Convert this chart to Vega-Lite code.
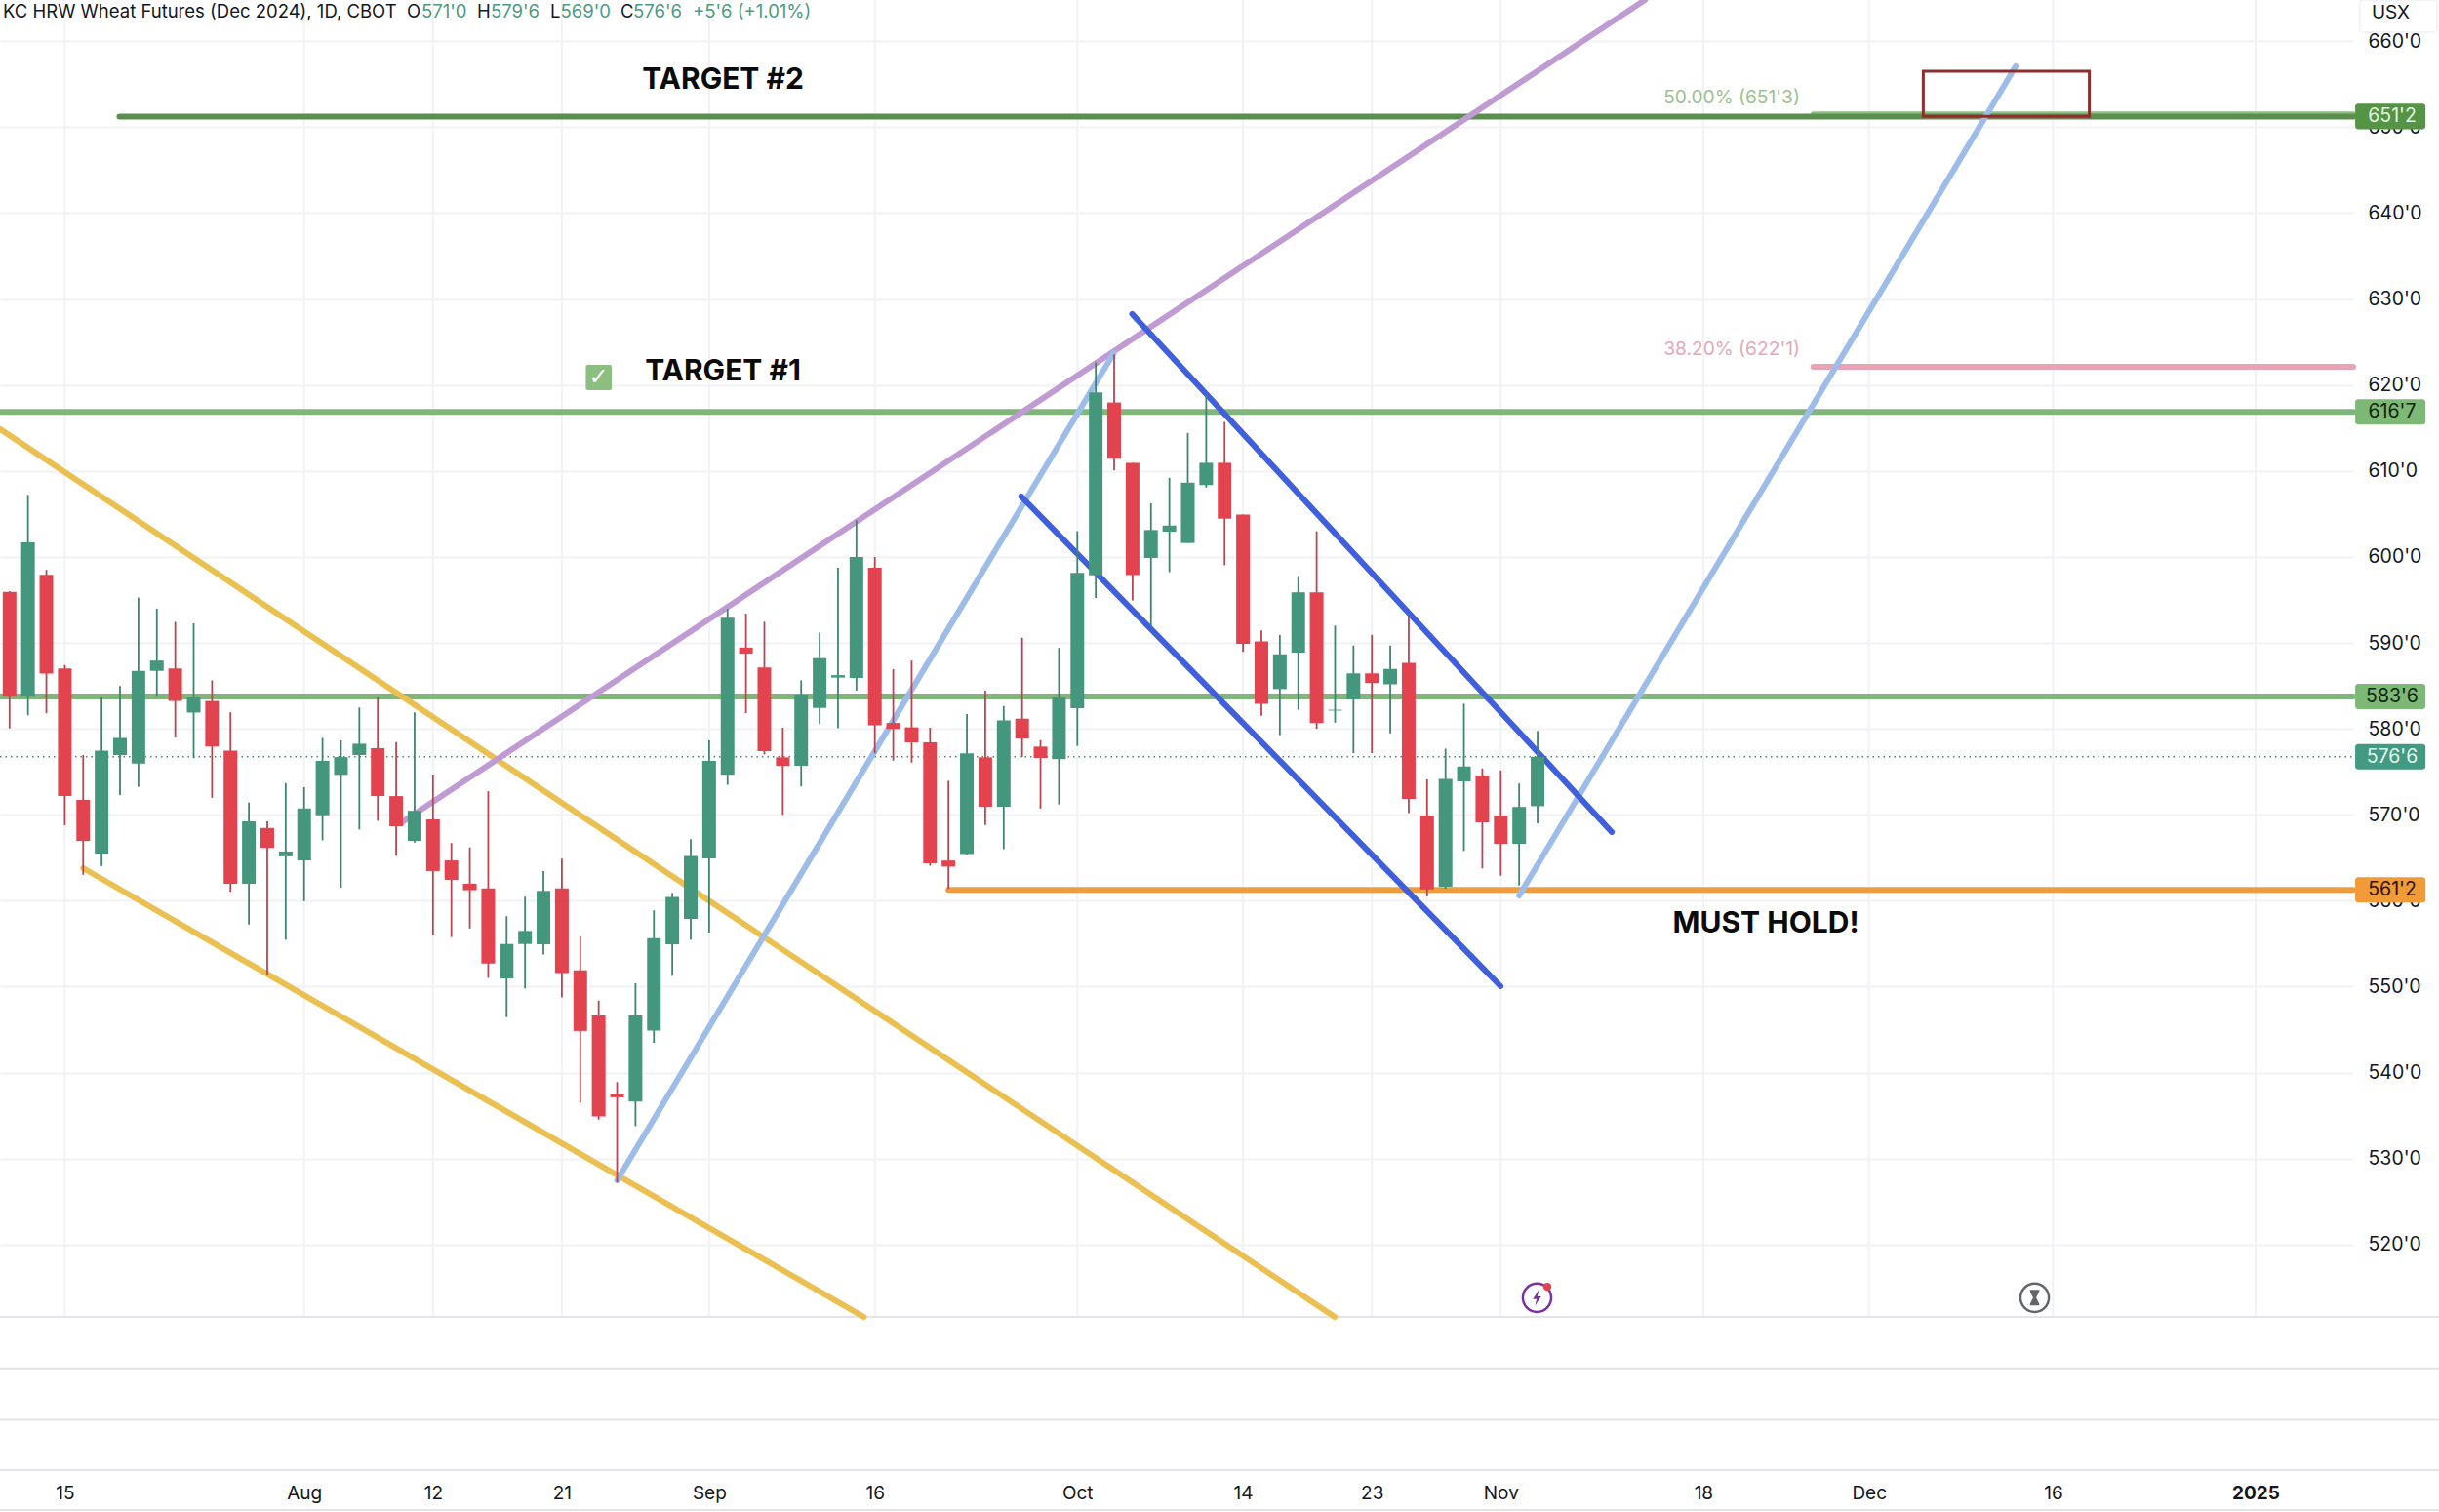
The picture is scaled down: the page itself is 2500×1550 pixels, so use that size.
{"$schema":"https://vega.github.io/schema/vega-lite/v6.json","width":2412,"height":1507,"autosize":"none","padding":{"left":0,"top":0,"right":88,"bottom":43},"background":"#ffffff","config":{"view":{"stroke":null},"font":"Inter"},
"datasets":{
"candles":[{"i":0,"open":595.94,"high":596,"low":580.05,"close":583.72},{"i":1,"open":583.72,"high":607.21,"low":581.57,"close":601.68},{"i":2,"open":597.93,"high":598.49,"low":581.81,"close":586.43},{"i":3,"open":587.02,"high":587.42,"low":568.78,"close":572.17},{"i":4,"open":571.73,"high":576.95,"low":563.01,"close":566.95},{"i":5,"open":565.48,"high":583.64,"low":564.04,"close":577.46},{"i":6,"open":576.95,"high":584.99,"low":572.29,"close":578.94},{"i":7,"open":575.95,"high":595.27,"low":573.24,"close":586.74},{"i":8,"open":586.74,"high":593.99,"low":583.72,"close":587.94},{"i":9,"open":587.02,"high":592.44,"low":578.98,"close":583.24},{"i":10,"open":581.89,"high":592.28,"low":576.59,"close":583.64},{"i":11,"open":583.24,"high":585.63,"low":571.97,"close":577.94},{"i":12,"open":577.46,"high":581.92,"low":561.02,"close":561.97},{"i":13,"open":561.97,"high":571.41,"low":557.23,"close":569.22},{"i":14,"open":568.46,"high":569.22,"low":551.3,"close":566.15},{"i":15,"open":565.16,"high":573.68,"low":555.44,"close":565.72},{"i":16,"open":564.68,"high":573.2,"low":559.94,"close":570.73},{"i":17,"open":569.94,"high":578.94,"low":567.03,"close":576.27},{"i":18,"open":574.64,"high":578.66,"low":561.5,"close":576.71},{"i":19,"open":576.95,"high":582.48,"low":568.27,"close":578.26},{"i":20,"open":577.74,"high":583.64,"low":569.3,"close":572.17},{"i":21,"open":572.17,"high":578.46,"low":565.24,"close":568.66},{"i":22,"open":566.95,"high":581.92,"low":566.75,"close":570.46},{"i":23,"open":569.46,"high":574.68,"low":555.96,"close":563.45},{"i":24,"open":564.68,"high":566.71,"low":555.76,"close":562.41},{"i":25,"open":561.97,"high":566.19,"low":556.76,"close":561.22},{"i":26,"open":561.42,"high":572.73,"low":551.02,"close":552.69},{"i":27,"open":550.94,"high":558.19,"low":546.44,"close":554.96},{"i":28,"open":554.96,"high":560.46,"low":549.79,"close":556.48},{"i":29,"open":554.92,"high":563.45,"low":553.74,"close":561.14},{"i":30,"open":561.42,"high":564.9,"low":548.75,"close":551.58},{"i":31,"open":551.9,"high":555.86,"low":536.5,"close":544.84},{"i":32,"open":546.63,"high":548.37,"low":534.52,"close":534.9},{"i":33,"open":537.45,"high":538.9,"low":527.22,"close":537.12},{"i":34,"open":536.64,"high":550.4,"low":533.77,"close":546.63},{"i":35,"open":544.89,"high":558.88,"low":543.47,"close":555.63},{"i":36,"open":554.92,"high":560.9,"low":551.25,"close":560.43},{"i":37,"open":557.89,"high":567.17,"low":555.44,"close":565.19},{"i":38,"open":564.91,"high":578.66,"low":556.29,"close":576.26},{"i":39,"open":574.66,"high":593.97,"low":573.48,"close":592.93},{"i":40,"open":589.45,"high":593.4,"low":581.82,"close":588.74},{"i":41,"open":587.14,"high":592.46,"low":577.01,"close":577.39},{"i":42,"open":576.68,"high":580.12,"low":569.99,"close":575.69},{"i":43,"open":575.69,"high":585.63,"low":573.29,"close":583.98},{"i":44,"open":582.43,"high":591.19,"low":580.54,"close":588.22},{"i":45,"open":585.96,"high":598.74,"low":580.07,"close":586.24},{"i":46,"open":585.91,"high":604.27,"low":584.45,"close":599.99},{"i":47,"open":598.74,"high":599.99,"low":577.15,"close":580.4},{"i":48,"open":580.68,"high":586.95,"low":576.3,"close":579.98},{"i":49,"open":580.17,"high":587.94,"low":576.07,"close":578.42},{"i":50,"open":578.42,"high":580.12,"low":564.06,"close":564.34},{"i":51,"open":564.67,"high":573.95,"low":561.37,"close":563.96},{"i":52,"open":565.42,"high":581.72,"low":565.33,"close":577.15},{"i":53,"open":576.68,"high":584.45,"low":568.81,"close":570.93},{"i":54,"open":570.93,"high":582.66,"low":565.99,"close":580.97},{"i":55,"open":581.18,"high":590.6,"low":576.7,"close":578.87},{"i":56,"open":577.93,"high":578.68,"low":570.72,"close":576.61},{"i":57,"open":576.47,"high":589.42,"low":571.19,"close":583.63},{"i":58,"open":582.4,"high":602.99,"low":578.02,"close":598.14},{"i":59,"open":597.85,"high":622.63,"low":595.22,"close":619.14},{"i":60,"open":617.97,"high":623.57,"low":610.05,"close":611.42},{"i":61,"open":610.95,"high":610.95,"low":594.93,"close":597.9},{"i":62,"open":599.88,"high":606.24,"low":591.92,"close":603.13},{"i":63,"open":602.94,"high":609.21,"low":598.23,"close":603.65},{"i":64,"open":601.62,"high":614.43,"low":601.62,"close":608.64},{"i":65,"open":608.36,"high":618.86,"low":608.07,"close":610.95},{"i":66,"open":610.95,"high":615.71,"low":599.03,"close":604.45},{"i":67,"open":604.92,"high":604.92,"low":588.95,"close":589.89},{"i":68,"open":590.18,"high":591.45,"low":581.51,"close":582.92},{"i":69,"open":584.62,"high":590.93,"low":579.25,"close":588.67},{"i":70,"open":588.86,"high":597.76,"low":582.22,"close":595.88},{"i":71,"open":595.88,"high":602.99,"low":580,"close":580.66},{"i":72,"open":582.12,"high":592.01,"low":580.71,"close":582.22},{"i":73,"open":583.44,"high":589.7,"low":577.17,"close":586.45},{"i":74,"open":586.45,"high":590.93,"low":577.17,"close":585.32},{"i":75,"open":585.18,"high":589.7,"low":579.48,"close":586.97},{"i":76,"open":587.68,"high":593.1,"low":570.2,"close":571.85},{"i":77,"open":569.87,"high":574.11,"low":560.5,"close":561.3},{"i":78,"open":561.63,"high":577.69,"low":561.39,"close":574.16},{"i":79,"open":573.88,"high":582.92,"low":565.78,"close":575.62},{"i":80,"open":574.58,"high":575.39,"low":563.75,"close":569.12},{"i":81,"open":569.87,"high":575.15,"low":562.9,"close":566.62},{"i":82,"open":566.62,"high":573.64,"low":561.77,"close":570.91},{"i":83,"open":571,"high":579.75,"low":569,"close":576.75}],
"lines":[{"line":"support 616'7","i":-0.519,"price":616.875},{"line":"support 616'7","i":127.3,"price":616.875},{"line":"support 583'6","i":-0.519,"price":583.75},{"line":"support 583'6","i":127.3,"price":583.75},{"line":"fib 50","i":97.98,"price":651.5},{"line":"fib 50","i":127.3,"price":651.5},{"line":"target 651'2","i":5.97,"price":651.25},{"line":"target 651'2","i":127.3,"price":651.25},{"line":"must hold 561'2","i":51,"price":561.25},{"line":"must hold 561'2","i":127.3,"price":561.25},{"line":"fib 38.2","i":97.98,"price":622.125},{"line":"fib 38.2","i":127.3,"price":622.125},{"line":"yellow upper","i":-0.519,"price":614.88},{"line":"yellow upper","i":71.98,"price":511.57},{"line":"yellow lower","i":4,"price":563.78},{"line":"yellow lower","i":46.4,"price":511.57},{"line":"purple","i":21.31,"price":569.12},{"line":"purple","i":88.83,"price":664.8},{"line":"blue light 1","i":33,"price":527.46},{"line":"blue light 1","i":59.98,"price":623.71},{"line":"blue light 2","i":82,"price":560.6},{"line":"blue light 2","i":108.97,"price":657.08},{"line":"blue upper","i":60.98,"price":628.25},{"line":"blue upper","i":87.03,"price":567.98},{"line":"blue lower","i":54.95,"price":607.03},{"line":"blue lower","i":80.99,"price":550.05}],
"tags":[{"label":"651'2","i":127.41,"i2":131.23,"price":652.73,"price2":649.77,"tag":"a"},{"label":"616'7","i":127.41,"i2":131.23,"price":618.35,"price2":615.4,"tag":"b"},{"label":"583'6","i":127.41,"i2":131.23,"price":585.23,"price2":582.27,"tag":"b"},{"label":"576'6","i":127.41,"i2":131.23,"price":578.23,"price2":575.27,"tag":"c"},{"label":"561'2","i":127.41,"i2":131.23,"price":562.73,"price2":559.77,"tag":"d"}],
"tagText":[{"label":"651'2","i":129.42,"price":651.25,"tag":"a"},{"label":"616'7","i":129.42,"price":616.875,"tag":"b"},{"label":"583'6","i":129.42,"price":583.75,"tag":"b"},{"label":"576'6","i":129.42,"price":576.75,"tag":"c"},{"label":"561'2","i":129.42,"price":561.25,"tag":"d"}]
},
"encoding":{"x":{"field":"i","type":"quantitative","title":null,"scale":{"domain":[-0.519,127.3],"nice":false,"zero":false,"padding":0},"axis":{"values":[3,16,23,30,38,47,58,67,74,81,92,101,111,122],"labelExpr":"datum.value==3?'15':datum.value==16?'Aug':datum.value==23?'12':datum.value==30?'21':datum.value==38?'Sep':datum.value==47?'16':datum.value==58?'Oct':datum.value==67?'14':datum.value==74?'23':datum.value==81?'Nov':datum.value==92?'18':datum.value==101?'Dec':datum.value==111?'16':'2025'","labelFontSize":19,"labelColor":"#131722","labelPadding":14,"labelFontWeight":{"condition":{"test":"datum.value==122","value":"bold"},"value":"normal"},"labelOverlap":false,"labelBound":false,"labelFlush":false,"ticks":false,"domain":false,"grid":false}},"y":{"field":"price","type":"quantitative","title":null,"scale":{"domain":[493.75,664.8],"nice":false,"zero":false},"axis":{"orient":"right","values":[520,530,540,550,560,570,580,590,600,610,620,630,640,650,660],"labelExpr":"datum.value+\"'0\"","labelFontSize":19.5,"labelColor":"#131722","labelPadding":15,"labelAlign":"left","labelOverlap":false,"labelBound":false,"labelFlush":false,"ticks":false,"domain":false,"grid":true,"gridColor":"#f1f2f5","gridWidth":2}}},
"layer":[
{"data":{"values":[{"i":3,"price":511.57,"top":664.8},{"i":16,"price":511.57,"top":664.8},{"i":23,"price":511.57,"top":664.8},{"i":30,"price":511.57,"top":664.8},{"i":38,"price":511.57,"top":664.8},{"i":47,"price":511.57,"top":664.8},{"i":58,"price":511.57,"top":664.8},{"i":67,"price":511.57,"top":664.8},{"i":74,"price":511.57,"top":664.8},{"i":81,"price":511.57,"top":664.8},{"i":92,"price":511.57,"top":664.8},{"i":101,"price":511.57,"top":664.8},{"i":111,"price":511.57,"top":664.8},{"i":122,"price":511.57,"top":664.8}]},"mark":{"type":"rule","color":"#f1f2f5","strokeWidth":2},"encoding":{"y2":{"field":"top"}}},
{"data":{"values":[{"price":511.57,"i":-0.519,"i2":131.97},{"price":505.59,"i":-0.519,"i2":131.97},{"price":499.6,"i":-0.519,"i2":131.97},{"price":493.75,"i":-0.519,"i2":131.97},{"price":489.1,"i":-0.519,"i2":131.97}]},"mark":{"type":"rule","color":"#e2e4e9","strokeWidth":2},"encoding":{"x2":{"field":"i2"}}},
{"data":{"values":[{"i":-0.519,"price":576.75},{"i":127.3,"price":576.75}]},"mark":{"type":"line","color":"#3a8a75","strokeWidth":1.5,"strokeDash":[1.5,4]}},
{"data":{"name":"lines"},"mark":{"type":"line","strokeCap":"round"},"encoding":{"color":{"field":"line","type":"nominal","legend":null,"scale":{"domain":["support 616'7","support 583'6","target 651'2","must hold 561'2","fib 50","fib 38.2","yellow upper","yellow lower","purple","blue light 1","blue light 2","blue upper","blue lower"],"range":["#82b57c","#82b57c","#5b8f4f","#ee9d3e","#8cc083","#e9a3b7","#ebc051","#ebc051","#c09bd3","#9dbcea","#9dbcea","#3f5fdc","#3f5fdc"]}},"strokeWidth":{"field":"line","type":"nominal","legend":null,"scale":{"domain":["support 616'7","support 583'6","target 651'2","must hold 561'2","fib 50","fib 38.2","yellow upper","yellow lower","purple","blue light 1","blue light 2","blue upper","blue lower"],"range":[6,6,3.5,6,3,2.5,4.5,4.5,5,4.5,4.5,4.5,4.5]}}}},
{"data":{"name":"candles"},"mark":{"type":"rule","strokeWidth":1.8},"encoding":{"y":{"field":"low","type":"quantitative","title":null,"scale":{"domain":[493.75,664.8],"nice":false,"zero":false}},"y2":{"field":"high"},"color":{"condition":{"test":"datum.close >= datum.open","value":"#3f8470"},"value":"#b84652"}}},
{"data":{"name":"candles"},"mark":{"type":"bar","size":14},"encoding":{"y":{"field":"open","type":"quantitative","title":null,"scale":{"domain":[493.75,664.8],"nice":false,"zero":false}},"y2":{"field":"close"},"color":{"condition":{"test":"datum.close >= datum.open","value":"#44977d"},"value":"#e2434e"}}},
{"data":{"values":[{"i":103.95,"i2":112.97,"price":656.52,"price2":651.26}]},"mark":{"type":"rect","fillOpacity":0,"fill":"#ffffff","stroke":"#8c2f2f","strokeWidth":3},"encoding":{"x2":{"field":"i2"},"y2":{"field":"price2"}}},
{"data":{"values":[{"i":31.3,"i2":32.71,"price":622.35,"price2":619.4}]},"mark":{"type":"rect","fill":"#8cbf7f","cornerRadius":2},"encoding":{"x2":{"field":"i2"},"y2":{"field":"price2"}}},
{"data":{"values":[{"text":"✓","i":32,"price":620.85}]},"mark":{"type":"text","font":"DejaVu Sans","fontSize":24,"fontWeight":"bold","color":"#ffffff","align":"center","baseline":"middle"},"encoding":{"text":{"field":"text"}}},
{"data":{"values":[{"text":"TARGET #2","i":38.75,"price":655.45},{"text":"TARGET #1","i":38.75,"price":621.55},{"text":"MUST HOLD!","i":95.4,"price":557.35}]},"mark":{"type":"text","fontSize":30,"fontWeight":"bold","color":"#0b0b0b","align":"center","baseline":"middle"},"encoding":{"text":{"field":"text"}}},
{"data":{"values":[{"text":"50.00% (651'3)","i":97.25,"price":653.45}]},"mark":{"type":"text","fontSize":19.2,"color":"#9dbf91","align":"right","baseline":"middle"},"encoding":{"text":{"field":"text"}}},
{"data":{"values":[{"text":"38.20% (622'1)","i":97.25,"price":624.17}]},"mark":{"type":"text","fontSize":19.2,"color":"#e3a8b8","align":"right","baseline":"middle"},"encoding":{"text":{"field":"text"}}},
{"data":{"values":[{"text":"KC HRW Wheat Futures (Dec 2024), 1D, CBOT","i":-0.36,"price":663.43},{"text":"O","i":21.58,"price":663.43},{"text":"H","i":25.39,"price":663.43},{"text":"L","i":29.37,"price":663.43},{"text":"C","i":33.19,"price":663.43}]},"mark":{"type":"text","fontSize":18.5,"color":"#131722","align":"left","baseline":"middle"},"encoding":{"text":{"field":"text"}}},
{"data":{"values":[{"text":"571'0","i":22.37,"price":663.43},{"text":"579'6","i":26.14,"price":663.43},{"text":"569'0","i":29.93,"price":663.43},{"text":"576'6","i":33.88,"price":663.43},{"text":"+5'6 (+1.01%)","i":37.11,"price":663.43}]},"mark":{"type":"text","fontSize":18.5,"color":"#4a9a84","align":"left","baseline":"middle"},"encoding":{"text":{"field":"text"}}},
{"data":{"values":[{"i":127.65,"i2":131.86,"price":664.8,"price2":661.06}]},"mark":{"type":"rect","fill":"#ffffff","stroke":"#f0f1f4","strokeWidth":1.5,"cornerRadius":4},"encoding":{"x2":{"field":"i2"},"y2":{"field":"price2"}}},
{"data":{"values":[{"text":"USX","i":129.34,"price":663.33}]},"mark":{"type":"text","fontSize":19,"color":"#131722","align":"center","baseline":"middle"},"encoding":{"text":{"field":"text"}}},
{"data":{"name":"tags"},"mark":{"type":"rect","cornerRadius":3},"encoding":{"x2":{"field":"i2"},"y2":{"field":"price2"},"fill":{"field":"tag","type":"nominal","legend":null,"scale":{"domain":["a","b","c","d"],"range":["#559445","#7db877","#429a82","#f09a38"]}}}},
{"data":{"name":"tagText"},"mark":{"type":"text","fontSize":19.5,"align":"center","baseline":"middle"},"encoding":{"text":{"field":"label"},"color":{"field":"tag","type":"nominal","legend":null,"scale":{"domain":["a","b","c","d"],"range":["#e2f3df","#10240f","#e3f5ef","#2b1300"]}}}},
{"data":{"values":[{"i":82.97,"price":513.8}]},"mark":{"type":"point","shape":"circle","size":850,"fill":null,"fillOpacity":0,"stroke":"#7b2fa6","strokeWidth":2.5,"opacity":1}},
{"data":{"values":[{"i":82.97,"price":513.8}]},"mark":{"type":"point","shape":"M0.15,-0.6 L-0.3,0.1 L-0.02,0.1 L-0.15,0.6 L0.3,-0.1 L0.02,-0.1 Z","size":800,"filled":true,"color":"#7b2fa6","opacity":1}},
{"data":{"values":[{"i":83.53,"price":515.08}]},"mark":{"type":"point","shape":"circle","size":70,"filled":true,"color":"#e2434e","opacity":1}},
{"data":{"values":[{"i":110,"price":513.8}]},"mark":{"type":"point","shape":"circle","size":850,"fill":null,"fillOpacity":0,"stroke":"#63676c","strokeWidth":2.5,"opacity":1}},
{"data":{"values":[{"i":110,"price":513.8}]},"mark":{"type":"point","shape":"M-0.3,-0.5 L0.3,-0.5 L0.3,-0.4 L0.1,0 L0.3,0.4 L0.3,0.5 L-0.3,0.5 L-0.3,0.4 L-0.1,0 L-0.3,-0.4 Z","size":1024,"filled":true,"color":"#63676c","opacity":1}}
],
"resolve":{"scale":{"color":"independent"}}}
